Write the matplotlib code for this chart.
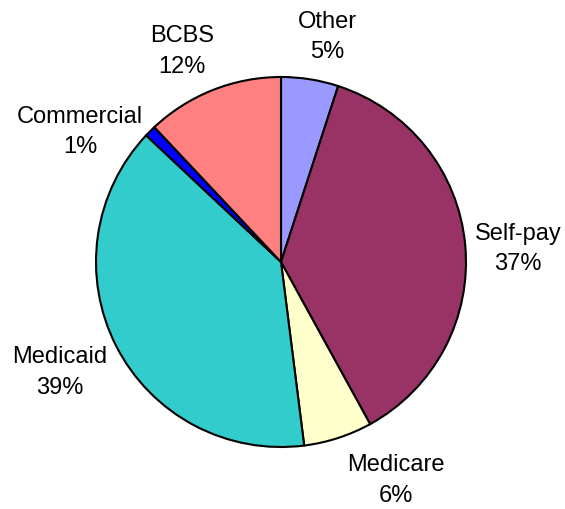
import numpy as np
import matplotlib.pyplot as plt

plt.rcParams['font.family'] = ['Liberation Sans', 'DejaVu Sans']

# payer mix, clockwise from 12 o'clock
payers = ['Other', 'Self-pay', 'Medicare', 'Medicaid', 'Commercial', 'BCBS']
shares = [5, 37, 6, 39, 1, 12]
colors = ['#9999FF', '#993366', '#FFFFCC', '#33CCCC', '#0000FF', '#FF8080']

# label distance from centre (in radii) and small angle nudges (deg)
label_dist = [1.247, 1.283, 1.328, 1.332, 1.297, 1.26]
label_nudge = [-2.5, -2, 9.9, -0.7, 11.9, 3.5]

fig = plt.figure(figsize=(5.65, 5.1), dpi=100)
ax = fig.add_axes([0, 0, 1, 1])

cx, cy, r = 281, 510 - 263, 185
wedges, _ = ax.pie(shares, colors=colors, startangle=90, counterclock=False,
                   center=(cx, cy), radius=r, frame=True,
                   wedgeprops=dict(edgecolor='black', linewidth=1.5))
ax.set_xlim(0, 565)
ax.set_ylim(0, 510)
ax.set_aspect('equal')
ax.axis('off')

for w, name, pct, d, nudge in zip(wedges, payers, shares, label_dist, label_nudge):
    ang = np.deg2rad((w.theta1 + w.theta2) / 2 + nudge)
    x = cx + d * r * np.cos(ang)
    y = cy + d * r * np.sin(ang)
    ax.text(x, y, f'{name}\n{pct}%', ha='center', va='center',
            fontsize=17, linespacing=1.52, color='black')

fig.savefig('out.png', dpi=100)
